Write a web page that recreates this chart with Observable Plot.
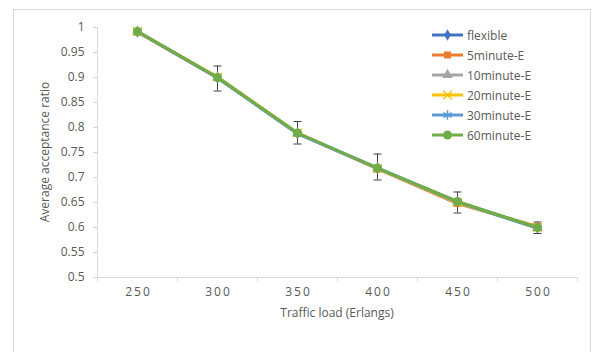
<!DOCTYPE html>
<html>
<head>
<meta charset="utf-8">
<script src="https://cdn.jsdelivr.net/npm/d3@7"></script>
<script src="https://cdn.jsdelivr.net/npm/@observablehq/plot@0.6"></script>
<style>
  html, body { margin: 0; padding: 0; background: #fff; overflow: hidden; }
  #wrap { position: relative; width: 593px; height: 352px; font-family: "Open Sans", Lato, sans-serif; }
  #frame { position: absolute; left: 13px; top: 9px; width: 578px; height: 400px; border: 1px solid #d9d9d9; box-sizing: border-box; }
  #chart { position: absolute; left: 0; top: 0; }
  #legend { position: absolute; left: 432px; top: 25px; font-size: 12px; color: #595959; }
  #legend .row { display: flex; align-items: center; height: 20px; }
  #legend svg { margin-right: 3px; }
</style>
</head>
<body>
<div id="wrap">
  <div id="frame"></div>
  <div id="chart"></div>
  <div id="legend"></div>
</div>
<script>
// Traffic loads (Erlangs) on the x axis
const loads = [250, 300, 350, 400, 450, 500];

// Average acceptance ratio per scheme
const flexible  = [0.991, 0.899, 0.788, 0.718, 0.651, 0.599];
const min5      = [0.991, 0.900, 0.789, 0.717, 0.648, 0.602];
const min10     = [0.992, 0.900, 0.788, 0.718, 0.650, 0.599];
const min20     = [0.992, 0.901, 0.789, 0.718, 0.650, 0.600];
const min30     = [0.992, 0.900, 0.788, 0.719, 0.651, 0.599];
const min60     = [0.992, 0.900, 0.789, 0.719, 0.652, 0.600];

// Error bar extents
const errLow  = [0.988, 0.873, 0.767, 0.695, 0.629, 0.588];
const errHigh = [0.996, 0.923, 0.812, 0.747, 0.671, 0.611];

// y axis tick values
const yTicks = [0.5, 0.55, 0.6, 0.65, 0.7, 0.75, 0.8, 0.85, 0.9, 0.95, 1];

const seriesNames  = ["flexible", "5minute-E", "10minute-E", "20minute-E", "30minute-E", "60minute-E"];
const seriesValues = [flexible, min5, min10, min20, min30, min60];
const seriesColors = ["#4472C4", "#ED7D31", "#A5A5A5", "#FFC000", "#5B9BD5", "#70AD47"];
const seriesSymbols = ["diamond", "square", "triangle", "times", "asterisk", "circle"];
const symbolFilled = [true, true, true, false, false, true];
const symbolSize = [3.5, 4, 4, 4, 4.5, 4.5];

const rows = seriesNames.flatMap((name, i) =>
  loads.map((load, j) => ({series: name, load, value: seriesValues[i][j], idx: i}))
);
const errRows = loads.map((load, j) => ({load, lo: errLow[j], hi: errHigh[j]}));

// category boundaries, half a step either side of each load
const step = loads[1] - loads[0];
const boundaries = loads.map(d => d - step / 2).concat([loads[loads.length - 1] + step / 2]);

// horizontal cap used at both ends of each error bar
const capSymbol = {
  draw(context, size) {
    const r = Math.sqrt(size / Math.PI);
    context.moveTo(-r, 0);
    context.lineTo(r, 0);
  }
};

const axisColor = "#d9d9d9";
const textColor = "#595959";
const fontStack = "'Open Sans', Lato, sans-serif";

const marks = [
  // axis lines
  Plot.ruleX([boundaries[0]], {y1: 0.5, y2: 1, stroke: axisColor}),
  Plot.ruleY([0.5], {x1: boundaries[0], x2: boundaries[boundaries.length - 1], stroke: axisColor}),
  // y axis
  Plot.axisY({ticks: yTicks, tickSize: 4, tickPadding: 9, stroke: axisColor, color: textColor,
    tickFormat: d => String(+d.toFixed(2)), label: null, fontSize: 12}),
  // x axis: boundary ticks and centred labels
  Plot.axisX({ticks: boundaries, tickSize: 4, stroke: axisColor, tickFormat: () => "", label: null}),
  Plot.axisX({ticks: loads, tickSize: 0, tickPadding: 10, color: textColor, label: null, fontSize: 12,
    tickFormat: d => String(d)}),
  // error bars
  Plot.ruleX(errRows, {x: "load", y1: "lo", y2: "hi", stroke: "#404040", strokeWidth: 1}),
  Plot.dot(errRows, {x: "load", y: "lo", symbol: capSymbol, r: 4, stroke: "#404040", strokeWidth: 1}),
  Plot.dot(errRows, {x: "load", y: "hi", symbol: capSymbol, r: 4, stroke: "#404040", strokeWidth: 1})
];

seriesNames.forEach((name, i) => {
  const data = rows.filter(d => d.idx === i);
  marks.push(Plot.line(data, {x: "load", y: "value", stroke: seriesColors[i], strokeWidth: 3, curve: "linear"}));
  marks.push(Plot.dot(data, {
    x: "load", y: "value", symbol: seriesSymbols[i], r: symbolSize[i],
    fill: symbolFilled[i] ? seriesColors[i] : "none",
    stroke: symbolFilled[i] ? "none" : seriesColors[i], strokeWidth: 1.5
  }));
});

const chart = Plot.plot({
  width: 593,
  height: 352,
  marginLeft: 97,
  marginRight: 16,
  marginTop: 27,
  marginBottom: 75,
  style: {fontFamily: fontStack, fontSize: "12px", background: "transparent", color: textColor},
  x: {type: "linear", domain: [boundaries[0], boundaries[boundaries.length - 1]]},
  y: {domain: [0.5, 1]},
  marks
});
document.getElementById("chart").appendChild(chart);

// tick label letter spacing on the x axis
chart.querySelectorAll("g[aria-label='x-axis tick label'] text").forEach(t => {
  t.setAttribute("letter-spacing", "2");
  t.setAttribute("dx", "1");
});

// axis titles
const svg = d3.select(chart);
svg.append("text")
  .attr("x", 337).attr("y", 317)
  .attr("text-anchor", "middle")
  .attr("fill", textColor).attr("font-size", 12)
  .text("Traffic load (Erlangs)");
svg.append("text")
  .attr("transform", "translate(49,152) rotate(-90)")
  .attr("text-anchor", "middle")
  .attr("fill", textColor).attr("font-size", 12)
  .text("Average acceptance ratio");

// legend
const legend = d3.select("#legend");
seriesNames.forEach((name, i) => {
  const row = legend.append("div").attr("class", "row");
  const s = row.append("svg").attr("width", 32).attr("height", 12);
  s.append("line").attr("x1", 0).attr("x2", 31).attr("y1", 6).attr("y2", 6)
    .attr("stroke", seriesColors[i]).attr("stroke-width", 3);
  const symbolType = {
    diamond: d3.symbolDiamond, square: d3.symbolSquare, triangle: d3.symbolTriangle,
    times: d3.symbolTimes, asterisk: d3.symbolAsterisk, circle: d3.symbolCircle
  }[seriesSymbols[i]];
  const r = symbolSize[i];
  s.append("path")
    .attr("transform", "translate(15.5,6)")
    .attr("d", d3.symbol(symbolType, r * r * Math.PI)())
    .attr("fill", symbolFilled[i] ? seriesColors[i] : "none")
    .attr("stroke", symbolFilled[i] ? "none" : seriesColors[i])
    .attr("stroke-width", 1.5);
  row.append("span").text(name);
});
</script>
</body>
</html>
